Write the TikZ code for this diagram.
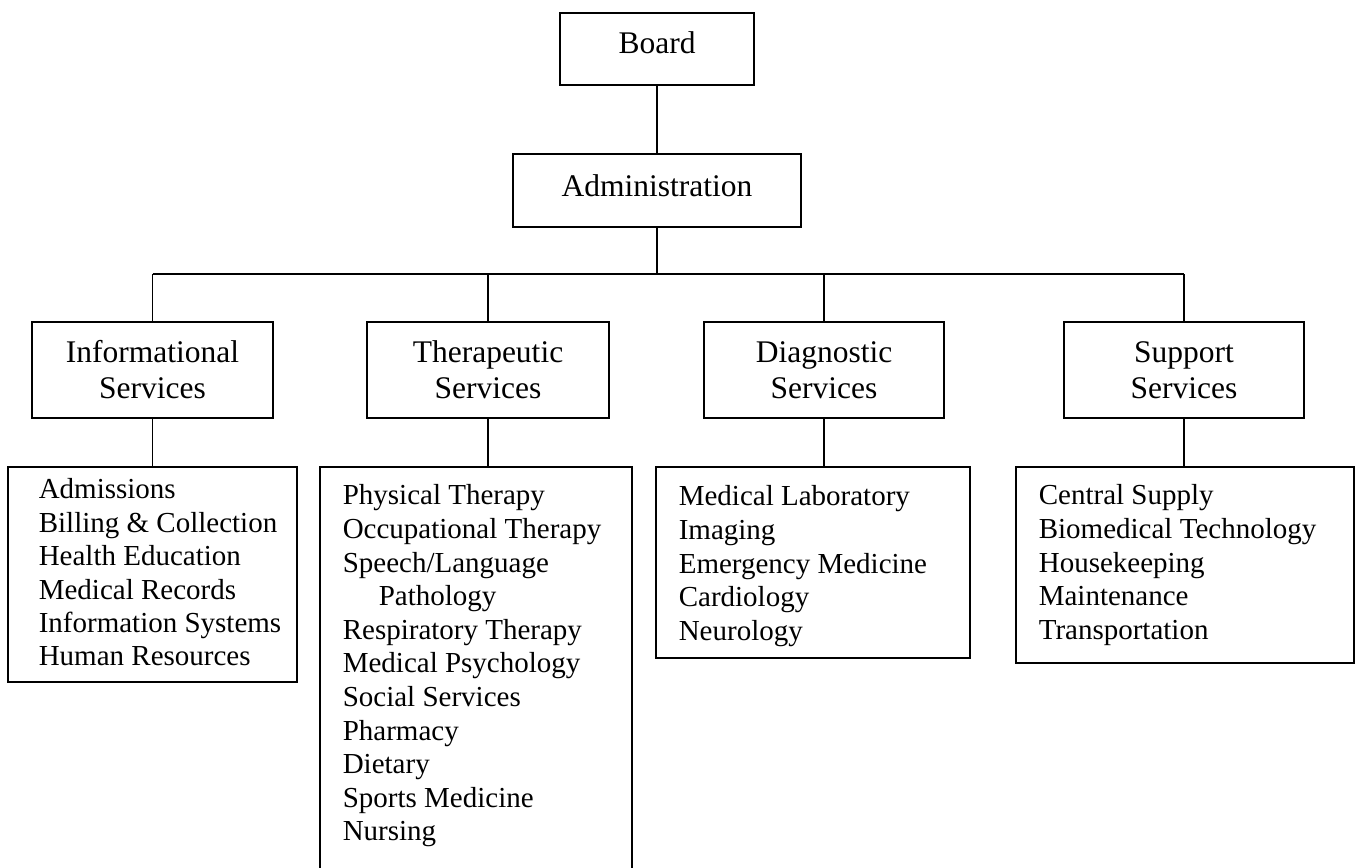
\documentclass[tikz,border=0pt]{standalone}
\usepackage{fontspec}
\setmainfont{Liberation Serif}
\begin{document}
\begin{tikzpicture}[x=1pt,y=-1pt,line width=1.6pt,
  box/.style={draw,line width=1.6pt,inner sep=0pt,rectangle},
  headtext/.style={inner sep=0pt,align=center,anchor=north,font=\fontsize{31.5}{36}\selectfont},
  toptext/.style={inner sep=0pt,anchor=base,font=\fontsize{31.5}{36}\selectfont},
  listtext/.style={inner sep=0pt,align=left,anchor=north west,font=\fontsize{29}{33.6}\selectfont}]
\useasboundingbox (0,0) rectangle (1356,867);
% top boxes
\node[box,minimum width=194pt,minimum height=72pt] (board) at (657,49) {};
\node[toptext] (boardt) at (657,54) {Board};
\node[box,minimum width=288pt,minimum height=73pt] (admin) at (657,190.5) {};
\node[toptext] (admint) at (657,196) {Administration};
% service boxes
\node[box,minimum width=241pt,minimum height=96pt] (info) at (152.5,370) {};
\node[box,minimum width=242pt,minimum height=96pt] (ther) at (488,370) {};
\node[box,minimum width=240pt,minimum height=96pt] (diag) at (824,370) {};
\node[box,minimum width=240pt,minimum height=96pt] (supp) at (1184,370) {};
\node[headtext] (infot) at (152.5,337) {\rule{0pt}{25pt}Informational\\Services};
\node[headtext] (thert) at (488,337) {\rule{0pt}{25pt}Therapeutic\\Services};
\node[headtext] (diagt) at (824,337) {\rule{0pt}{25pt}Diagnostic\\Services};
\node[headtext] (suppt) at (1184,337) {\rule{0pt}{25pt}Support\\Services};
% list boxes
\node[box,minimum width=289pt,minimum height=215pt] (infol) at (152.5,574.5) {};
\node[box,minimum width=312pt,minimum height=413pt] (therl) at (476,673.5) {};
\node[box,minimum width=314pt,minimum height=191pt] (diagl) at (813,562.5) {};
\node[box,minimum width=338pt,minimum height=196pt] (suppl) at (1185,565) {};
\node[listtext,font=\fontsize{29}{33.4}\selectfont] (infolt) at (38,475) {\rule{0pt}{23pt}Admissions\\Billing \& Collection\\Health Education\\Medical Records\\Information Systems\\Human Resources};
\node[listtext] (therlt) at (342,481) {\rule{0pt}{23pt}Physical Therapy\\Occupational Therapy\\Speech/Language\\\hspace*{36pt}Pathology\\Respiratory Therapy\\Medical Psychology\\Social Services\\Pharmacy\\Dietary\\Sports Medicine\\Nursing};
\node[listtext] (diaglt) at (678,482) {\rule{0pt}{23pt}Medical Laboratory\\Imaging\\Emergency Medicine\\Cardiology\\Neurology};
\node[listtext] (supplt) at (1038,481) {\rule{0pt}{23pt}Central Supply\\Biomedical Technology\\Housekeeping\\Maintenance\\Transportation};
% connectors
\coordinate (busL) at (152.5,274);
\coordinate (busR) at (1184,274);
\draw (board.south) -- (admin.north);
\draw (admin.south) -- (admin.south |- busL);
\draw (busL) -- (busR);
\draw (info.north) -- (info.north |- busL);
\draw (ther.north) -- (ther.north |- busL);
\draw (diag.north) -- (diag.north |- busL);
\draw (supp.north) -- (supp.north |- busL);
\draw (info.south) -- (info.south |- infol.north);
\draw (ther.south) -- (ther.south |- therl.north);
\draw (diag.south) -- (diag.south |- diagl.north);
\draw (supp.south) -- (supp.south |- suppl.north);
\end{tikzpicture}
\end{document}
